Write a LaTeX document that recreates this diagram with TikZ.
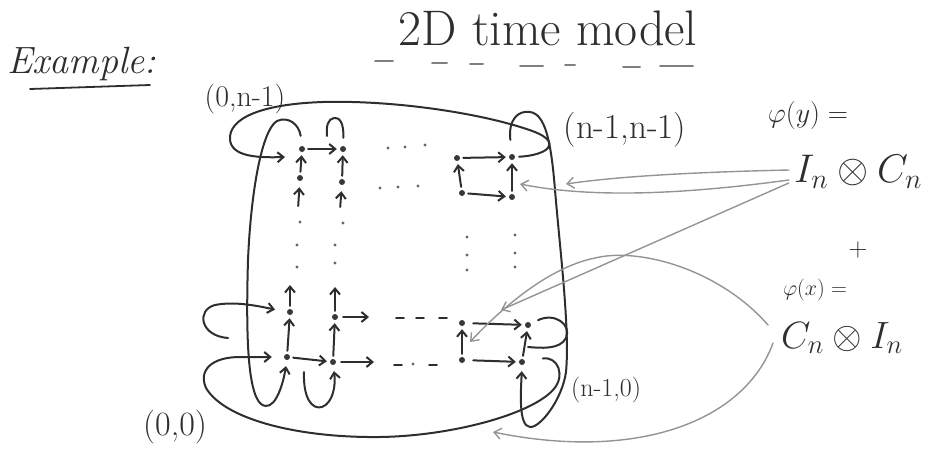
\RequirePackage{fix-cm}
\documentclass[tikz,border=0pt]{standalone}
\usetikzlibrary{arrows.meta}
\begin{document}
\begin{tikzpicture}[x=1pt,y=-1pt,
  ink/.style={draw=black!82, line width=2pt, line cap=round},
  tip/.style={-{Straight Barb[length=6pt,width=10pt]}},
  arr/.style={ink, tip, shorten >=3pt, shorten <=3pt},
  ptr/.style={draw=black!42, line width=1.4pt, line cap=round, -{Straight Barb[length=7pt,width=11pt]}},
  pt/.style={circle, fill=black!78, inner sep=0pt, minimum size=6pt},
  lab/.style={inner sep=0pt, text=black!82},
  dotmark/.style={fill=black!60}
]
\useasboundingbox (0,0) rectangle (932,455);

% ---- texts
\node[lab, anchor=base, font=\fontsize{50}{52}\selectfont] (title) at (548,45) {2D time model};
\node[lab, font=\itshape\fontsize{38}{40}\selectfont] (ex) at (82,64) {Example:};
\node[lab, font=\fontsize{30}{32}\selectfont] (l0t) at (245,99) {(0,n-1)};
\node[lab, font=\fontsize{35}{37}\selectfont] (llt) at (625,130) {(n-1,n-1)};
\node[lab, font=\fontsize{26}{28}\selectfont] (ll0) at (606,390) {(n-1,0)};
\node[lab, font=\fontsize{34}{36}\selectfont] (l00) at (175,427) {(0,0)};
\node[lab, font=\fontsize{28}{30}\selectfont] (py) at (808,115) {$\varphi(y) =$};
\node[lab, font=\fontsize{40}{44}\selectfont] (cy) at (858,172) {$I_n\otimes C_n$};
\node[lab, font=\fontsize{26}{28}\selectfont] (plus) at (858,250) {$+$};
\node[lab, font=\fontsize{22}{24}\selectfont] (px) at (815,290) {$\varphi(x) =$};
\node[lab, font=\fontsize{38}{42}\selectfont] (cx) at (842,338) {$C_n\otimes I_n$};

% underlines
\draw[ink, line width=1.8pt] (30,89) -- (150,85);
\foreach \a/\b/\y in {375/393/61, 432/447/63, 470/483/64, 520/543/66, 565/575/65, 623/640/67, 660/693/66}
  \draw[draw=black!50, line width=2pt, line cap=round] (\a,\y) -- (\b,\y);

% ---- grid nodes
\node[pt] (n0t) at (302,149) {};
\node[pt] (n1t) at (343,149) {};
\node[pt] (nmt) at (457,158) {};
\node[pt] (nlt) at (512,157) {};
\node[pt] (n0s) at (300,178) {};
\node[pt] (n1s) at (342,182) {};
\node[pt] (nms) at (462,193) {};
\node[pt] (nls) at (512,197) {};
\node[pt] (n01) at (290,312) {};
\node[pt] (n11) at (335,317) {};
\node[pt] (nm1) at (462,323) {};
\node[pt] (nl1) at (528,325) {};
\node[pt] (n00) at (287,357) {};
\node[pt] (n10) at (333,362) {};
\node[pt] (nm0) at (462,360) {};
\node[pt] (nl0) at (522,362) {};

% free ends
\coordinate (b0s) at (298,209);
\coordinate (b1s) at (340,210);
\coordinate (u01) at (290,282);
\coordinate (u11) at (335,284);
\coordinate (r11) at (372,317);
\coordinate (r10) at (377,362);
\coordinate (a1) at (327,136);
\coordinate (b1) at (304,372);
\coordinate (r1a) at (228,338);
\coordinate (r1b) at (528,347);
\coordinate (gA) at (566,184);
\coordinate (gB) at (520,184);
\coordinate (gC) at (501,310);
\coordinate (gD) at (470,342);
\coordinate (gE) at (493,432);

% ---- grid arrows
\draw[arr] (n0t) -- (n1t);
\draw[arr] (nmt) -- (nlt);
\draw[arr] (n0s) -- (n0t);
\draw[arr] (n1s) -- (n1t);
\draw[arr, shorten >=6pt] (b0s) -- (n0s);
\draw[arr, shorten >=6pt] (b1s) -- (n1s);
\draw[arr] (nms) -- (nls);
\draw[arr] (nms) -- (nmt);
\draw[arr] (nls) -- (nlt);

\draw[arr] (n00) -- (n01);
\draw[arr] (n01) -- (u01);
\draw[arr] (n10) -- (n11);
\draw[arr] (n11) -- (u11);
\draw[arr] (n00) -- (n10);
\draw[arr, shorten <=5pt] (n10) -- (r10);
\draw[arr, shorten <=5pt] (n11) -- (r11);
\draw[arr, shorten <=8pt] (nm1) -- (nl1);
\draw[arr, shorten <=8pt] (nm0) -- (nl0);
\draw[arr] (nm0) -- (nm1);
\draw[arr] (nl0) -- (nl1);

% ---- dots
\foreach \p in {(388,148),(405,147),(425,145),(380,188),(398,187),(418,186),
  (300,222),(343,223),(297,245),(297,267),(335,245),(335,263),
  (467,237),(467,255),(467,270),(515,235),(515,253),(515,267),(413,364)}
  \fill[dotmark] \p circle (1.6);
\foreach \x in {400,420,443} \draw[ink, line width=1.6pt] (\x-4,318) -- (\x+4,318);
\foreach \x in {398,433} \draw[ink, line width=1.6pt] (\x-4,365) -- (\x+4,365);

% ---- wrap-around loops
% row n-1
\draw[ink, tip, shorten <=4pt] (nlt.east) .. controls (548,155) and (562,143) .. (535,132)
  .. controls (490,115) and (400,100) .. (323,102)
  .. controls (262,104) and (228,118) .. (230,140)
  .. controls (232,156) and (255,158) .. ([shift={(-17,8)}]n0t.center);
% column 0
\draw[ink, tip, shorten <=10pt, shorten >=6pt] (n0t.north) .. controls (299,124) and (288,116) .. (277,121)
  .. controls (262,130) and (251,190) .. (248,260)
  .. controls (246,330) and (247,392) .. (261,404)
  .. controls (273,413) and (282,390) .. (n00.south);
% column 1
\draw[ink, shorten <=8pt] (n1t.north) .. controls (344,122) and (339,117) .. (334,118)
  .. controls (328,119) and (326,126) .. (a1);
\draw[ink, tip, shorten >=6pt] (b1) .. controls (303,398) and (312,410) .. (322,407)
  .. controls (333,403) and (336,385) .. (n10.south);
% column n-1
\draw[ink, tip, shorten <=14pt, shorten >=6pt] (nlt.north) .. controls (508,120) and (518,110) .. (530,112)
  .. controls (545,114) and (551,140) .. (555,190)
  .. controls (560,250) and (570,330) .. (566,372)
  .. controls (562,400) and (540,428) .. (530,427)
  .. controls (518,426) and (521,390) .. (nl0.south);
% row 1
\draw[ink, tip, shorten >=12pt] (r1a) .. controls (200,336) and (196,310) .. (215,305)
  .. controls (235,301) and (258,306) .. (n01.west);
\draw[ink, shorten <=8pt] (nl1) .. controls (555,312) and (572,325) .. (566,338)
  .. controls (560,350) and (540,348) .. (r1b);
% row 0
\draw[ink, tip, shorten <=18pt, shorten >=12pt] (nl0) .. controls (558,356) and (566,376) .. (553,390)
  .. controls (530,415) and (450,436) .. (380,437)
  .. controls (300,438) and (225,420) .. (206,388)
  .. controls (198,370) and (212,357) .. (240,357) -- (n00);

% ---- grey pointers
\draw[ptr] ([shift={(-5,-2)}]cy.west) .. controls (700,172) and (620,176) .. (gA);
\draw[ptr] ([shift={(-5,8)}]cy.west) .. controls (700,192) and (600,200) .. (gB);
\draw[ptr] ([shift={(-5,11)}]cy.west) -- (gC);
\draw[ptr] ([shift={(-13,-13)}]cx.west) .. controls (720,270) and (640,247) .. (595,258)
  .. controls (545,268) and (495,315) .. (gD);
\draw[ptr] ([shift={(-8,5)}]cx.west) .. controls (745,420) and (640,462) .. (gE);
\end{tikzpicture}
\end{document}
